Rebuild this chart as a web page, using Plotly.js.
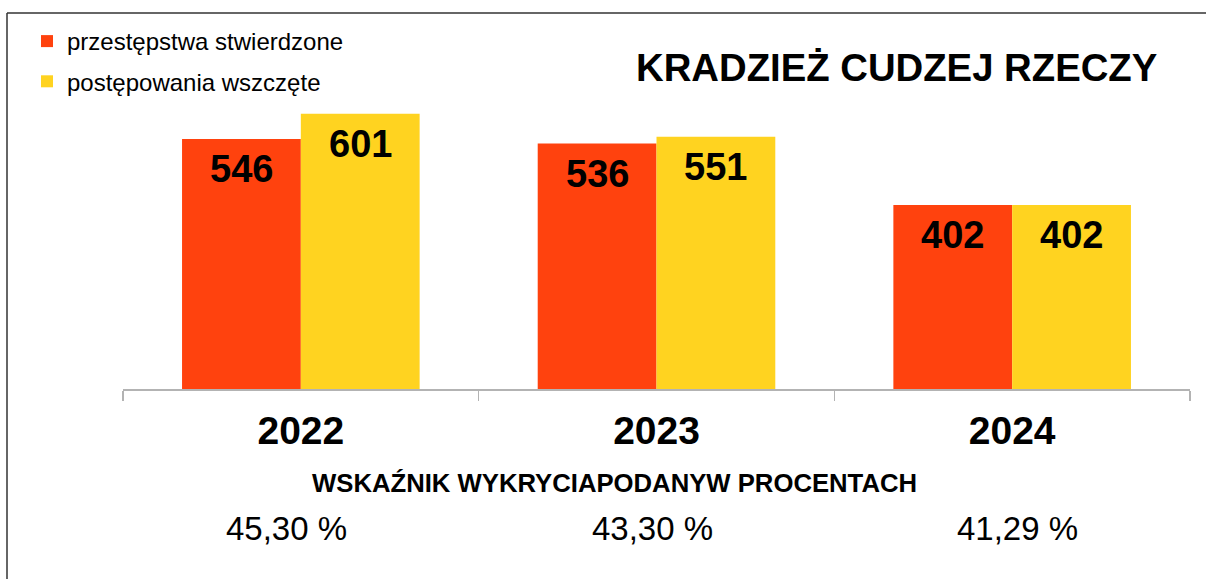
<!DOCTYPE html>
<html>
<head>
<meta charset="utf-8">
<script src="https://cdn.plot.ly/plotly-3.0.1.min.js"></script>
<style>
html,body{margin:0;padding:0;background:#fff;}
#chart{width:1206px;height:579px;}
</style>
</head>
<body>
<div id="chart"></div>
<script>
// ---- data ----
var years = ['2022', '2023', '2024'];
var stwierdzone = [546, 536, 402];
var wszczete = [601, 551, 402];
var rates = ['45,30 %', '43,30 %', '41,29 %'];
var seriesNames = ['przestępstwa stwierdzone', 'postępowania wszczęte'];
var chartTitle = 'KRADZIEŻ CUDZEJ RZECZY';
var rateTitle = 'WSKAŹNIK WYKRYCIAPODANYW PROCENTACH';

// ---- layout geometry ----
var W = 1206, H = 579;
var M = {l: 123, r: 16, t: 30, b: 190};
var plotW = W - M.l - M.r, plotH = H - M.t - M.b;
function px(xp) { return (xp - M.l) / plotW; }
function py(yp) { return (H - M.b - yp) / plotH; }
var BARGAP = 0.332;
var barW = plotW / years.length * (1 - BARGAP) / 2;

var FONT = '"Liberation Sans", Arial, sans-serif';
var RED = '#FF420E', YELLOW = '#FFD320';

var traces = [
  {type: 'bar', x: years, y: stwierdzone, name: seriesNames[0], legendgroup: 'a',
   marker: {color: RED}, hoverinfo: 'x+y'},
  {type: 'bar', x: years, y: wszczete, name: seriesNames[1], legendgroup: 'b',
   marker: {color: YELLOW}, hoverinfo: 'x+y'}
];

var annotations = [
  {text: chartTitle, xref: 'paper', yref: 'paper', x: px(896), y: py(67),
   xanchor: 'center', yanchor: 'middle', showarrow: false,
   font: {family: FONT, size: 38.3, color: '#000', weight: 'bold'}},
  {text: rateTitle, xref: 'paper', yref: 'paper', x: px(614), y: py(483),
   xanchor: 'center', yanchor: 'middle', showarrow: false,
   font: {family: FONT, size: 25.7, color: '#000', weight: 'bold'}}
];
// value labels inside the top of each bar
[stwierdzone, wszczete].forEach(function (vals, s) {
  vals.forEach(function (v, i) {
    annotations.push({text: String(v), xref: 'x', yref: 'y', x: i, y: v,
      xshift: (s === 0 ? -1 : 1) * barW / 2, yshift: -7,
      xanchor: 'center', yanchor: 'top', showarrow: false,
      font: {family: FONT, size: 38, color: '#000', weight: 'bold'}});
  });
});
// detection rate row
rates.forEach(function (r, i) {
  annotations.push({text: r, xref: 'paper', yref: 'paper', x: px(286.5 + i * 365.5), y: py(528),
    xanchor: 'center', yanchor: 'middle', showarrow: false,
    font: {family: FONT, size: 33, color: '#000'}});
});

var layout = {
  width: W, height: H,
  margin: M,
  paper_bgcolor: '#fff', plot_bgcolor: '#fff',
  barmode: 'group', bargap: BARGAP, bargroupgap: 0,
  showlegend: true,
  legend: {x: px(27), y: py(19), xanchor: 'left', yanchor: 'top',
    font: {family: FONT, size: 24, color: '#000'}, traceorder: 'grouped',
    tracegroupgap: 6, bgcolor: 'rgba(0,0,0,0)'},
  xaxis: {type: 'category', range: [-0.5, 2.5], autorange: false,
    showline: true, linecolor: '#b3b3b3', linewidth: 1.5,
    ticks: 'outside', tickson: 'boundaries', ticklen: 10, tickcolor: '#b3b3b3', tickwidth: 1.5,
    ticklabelstandoff: 7,
    tickfont: {family: FONT, size: 39, color: '#000', weight: 'bold'}, tickangle: 0,
    showgrid: false, zeroline: false, fixedrange: true},
  yaxis: {visible: false, range: [0, plotH / 0.458], fixedrange: true},
  shapes: [
    {type: 'line', xref: 'paper', yref: 'paper', x0: px(7), x1: px(W + 5), y0: py(13), y1: py(13),
     line: {color: '#333', width: 1.5}},
    {type: 'line', xref: 'paper', yref: 'paper', x0: px(7), x1: px(7), y0: py(13), y1: py(H + 5),
     line: {color: '#333', width: 1.5}}
  ],
  annotations: annotations
};

Plotly.newPlot('chart', traces, layout, {displayModeBar: false, staticPlot: true});
</script>
</body>
</html>
